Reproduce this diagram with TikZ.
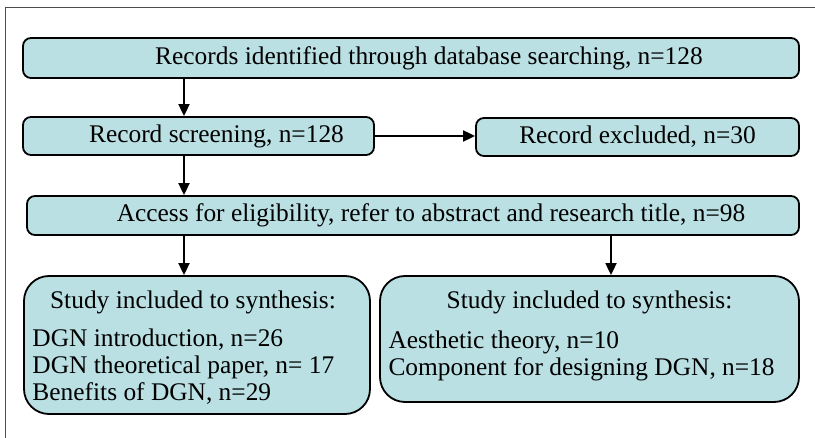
\documentclass[tikz,border=0pt]{standalone}
\usepackage{fontspec}
\setmainfont{Liberation Serif}
\usetikzlibrary{arrows.meta,positioning,calc}
\definecolor{boxfill}{RGB}{186,224,227}

\begin{document}
\begin{tikzpicture}[x=0.5pt, y=-0.5pt,
  box/.style={draw=black, line width=0.9pt, fill=boxfill, rounded corners=4pt, inner sep=0pt, font=\fontsize{12.7}{13.5}\selectfont},
  bigbox/.style={box, rounded corners=12.5pt},
  txt/.style={inner sep=0pt, font=\fontsize{12.7}{13.5}\selectfont},
  arr/.style={-{Triangle[length=6pt,width=5.5pt]}, line width=0.9pt}]
  \useasboundingbox (0,0) rectangle (815,438);

  % Frame
  \draw[gray!60!black, line width=0.5pt] (5.5,438) -- (5.5,7.5) -- (815,7.5);

  % Boxes
  \node[box, minimum width=388pt, minimum height=20pt] (rec) at (411,58) {\hspace*{18pt}Records identified through database searching, n=128};
  \node[box, minimum width=175.5pt, minimum height=19pt] (scr) at (198.5,136) {\hspace*{18pt}Record screening, n=128};
  \node[box, minimum width=161.5pt, minimum height=19pt] (exc) at (637.5,137) {Record excluded, n=30};
  \node[box, minimum width=386pt, minimum height=19.5pt] (acc) at (413,215.5) {\hspace*{18pt}Access for eligibility, refer to abstract and research title, n=98};
  \node[bigbox, minimum width=173pt, minimum height=69pt] (syn1) at (197,345) {};
  \node[bigbox, minimum width=209.5pt, minimum height=63pt] (syn2) at (589.5,339) {};

  % Texts of the study boxes (base = last line)
  \node[txt, anchor=base] (syn1head) at ($(syn1.north)+(-4,33)$) {Study included to synthesis:};
  \node[txt, anchor=base west, align=left] (syn1list) at ($(syn1.north west)+(9,125)$) {DGN introduction, n=26\\DGN theoretical paper, n= 17\\Benefits of DGN, n=29};
  \node[txt, anchor=base] (syn2head) at ($(syn2.north)+(0,33)$) {Study included to synthesis:};
  \node[txt, anchor=base west, align=left] (syn2list) at ($(syn2.north west)+(9,100)$) {Aesthetic theory, n=10\\Component for designing DGN, n=18};

  % Arrows
  \coordinate (ax) at (184,0);
  \coordinate (bx) at (611,0);
  \draw[arr] (rec.south -| ax) -- (scr.north -| ax);
  \draw[arr] (scr.east) -- (scr.east -| exc.west);
  \draw[arr] (scr.south -| ax) -- (acc.north -| ax);
  \draw[arr] (acc.south -| ax) -- (syn1.north -| ax);
  \draw[arr] (acc.south -| bx) -- (syn2.north -| bx);
\end{tikzpicture}
\end{document}
